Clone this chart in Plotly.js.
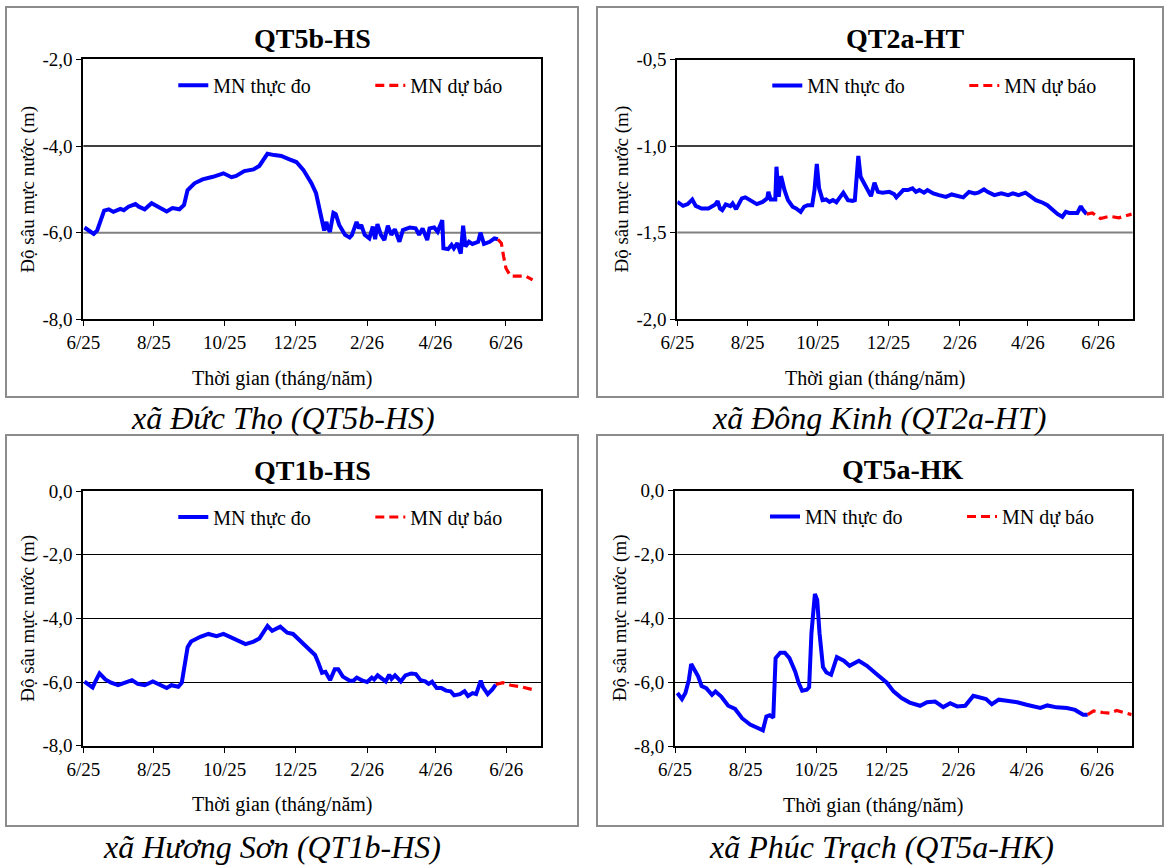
<!DOCTYPE html>
<html>
<head>
<meta charset="utf-8">
<script src="https://cdn.plot.ly/plotly-3.0.1.min.js"></script>
<style>
html,body{margin:0;padding:0;background:#ffffff;overflow:hidden;}
#chart{width:1165px;height:867px;}
</style>
</head>
<body>
<div id="chart"></div>
<script>
// ---------------- DATA ----------------
const seriesNames = ['MN thực đo', 'MN dự báo'];
const stationTitles = ['QT5b-HS', 'QT2a-HT', 'QT1b-HS', 'QT5a-HK'];
const captions = ['xã Đức Thọ (QT5b-HS)', 'xã Đông Kinh (QT2a-HT)', 'xã Hương Sơn (QT1b-HS)', 'xã Phúc Trạch (QT5a-HK)'];
const yAxisTitle = 'Độ sâu mực nước (m)';
const xAxisTitle = 'Thời gian (tháng/năm)';

// Y tick values / labels
const yTicks1 = [-8, -6, -4, -2];          const yLabels1 = ['-8,0', '-6,0', '-4,0', '-2,0'];
const yTicks2 = [-2, -1.5, -1, -0.5];      const yLabels2 = ['-2,0', '-1,5', '-1,0', '-0,5'];
const yTicks3 = [-8, -6, -4, -2, 0];       const yLabels3 = ['-8,0', '-6,0', '-4,0', '-2,0', '0,0'];
const yTicks4 = [-8, -6, -4, -2, 0];       const yLabels4 = ['-8,0', '-6,0', '-4,0', '-2,0', '0,0'];

// QT5b-HS observed
const qt5bObsDates = ['2025-06-02','2025-06-10','2025-06-13','2025-06-19','2025-06-23','2025-06-27','2025-07-03','2025-07-06','2025-07-10','2025-07-16','2025-07-19','2025-07-24','2025-07-30','2025-08-05','2025-08-12','2025-08-17','2025-08-23','2025-08-27','2025-08-30','2025-09-05','2025-09-12','2025-09-21','2025-09-30','2025-10-07','2025-10-11','2025-10-18','2025-10-26','2025-10-31','2025-11-07','2025-11-13','2025-11-19','2025-11-26','2025-12-02','2025-12-08','2025-12-15','2025-12-19','2025-12-21','2025-12-24','2025-12-26','2025-12-28','2025-12-29','2025-12-31','2026-01-03','2026-01-05','2026-01-08','2026-01-13','2026-01-17','2026-01-19','2026-01-23','2026-01-25','2026-01-27','2026-01-30','2026-02-03','2026-02-06','2026-02-08','2026-02-10','2026-02-13','2026-02-16','2026-02-19','2026-02-22','2026-02-25','2026-03-01','2026-03-04','2026-03-10','2026-03-15','2026-03-18','2026-03-21','2026-03-25','2026-03-27','2026-03-31','2026-04-03','2026-04-07','2026-04-08','2026-04-12','2026-04-15','2026-04-17','2026-04-20','2026-04-23','2026-04-25','2026-04-27','2026-04-30','2026-05-03','2026-05-08','2026-05-10','2026-05-13','2026-05-18','2026-05-22','2026-05-25'];
const qt5bObs = [-5.88,-6.03,-5.95,-5.49,-5.46,-5.52,-5.45,-5.48,-5.40,-5.34,-5.40,-5.46,-5.32,-5.41,-5.51,-5.43,-5.46,-5.36,-5.02,-4.86,-4.77,-4.71,-4.63,-4.72,-4.69,-4.58,-4.54,-4.46,-4.18,-4.21,-4.23,-4.31,-4.37,-4.55,-4.86,-5.09,-5.32,-5.71,-5.95,-5.75,-5.88,-5.98,-5.54,-5.57,-5.82,-6.05,-6.11,-6.05,-5.75,-5.90,-5.82,-6.05,-6.13,-5.86,-6.15,-5.80,-6.05,-6.17,-5.84,-6.05,-5.92,-6.21,-5.94,-5.88,-5.90,-6.05,-5.90,-6.17,-5.90,-5.88,-5.98,-5.71,-6.36,-6.38,-6.28,-6.36,-6.24,-6.48,-5.84,-6.32,-6.21,-6.26,-6.21,-6.00,-6.26,-6.21,-6.13,-6.15];
const qt5bFcDates = ['2026-05-25','2026-05-28','2026-05-30','2026-06-01','2026-06-05','2026-06-12','2026-06-18','2026-06-24'];
const qt5bFc = [-6.15,-6.24,-6.55,-6.82,-7.00,-7.00,-7.00,-7.09];

// QT2a-HT observed
const qt2aObsDates = ['2025-06-01','2025-06-06','2025-06-10','2025-06-14','2025-06-17','2025-06-22','2025-06-28','2025-07-04','2025-07-06','2025-07-08','2025-07-10','2025-07-13','2025-07-17','2025-07-19','2025-07-22','2025-07-24','2025-07-27','2025-07-30','2025-08-03','2025-08-09','2025-08-14','2025-08-18','2025-08-19','2025-08-21','2025-08-25','2025-08-26','2025-08-28','2025-08-30','2025-09-02','2025-09-05','2025-09-09','2025-09-12','2025-09-16','2025-09-19','2025-09-22','2025-09-26','2025-09-28','2025-09-30','2025-10-02','2025-10-05','2025-10-08','2025-10-11','2025-10-14','2025-10-17','2025-10-20','2025-10-23','2025-10-27','2025-10-31','2025-11-02','2025-11-05','2025-11-07','2025-11-10','2025-11-13','2025-11-16','2025-11-19','2025-11-22','2025-11-26','2025-12-02','2025-12-06','2025-12-08','2025-12-14','2025-12-18','2025-12-22','2025-12-25','2025-12-28','2026-01-01','2026-01-04','2026-01-09','2026-01-14','2026-01-20','2026-01-25','2026-02-01','2026-02-04','2026-02-09','2026-02-14','2026-02-17','2026-02-22','2026-02-25','2026-03-03','2026-03-09','2026-03-15','2026-03-19','2026-03-24','2026-03-30','2026-04-02','2026-04-08','2026-04-14','2026-04-18','2026-04-23','2026-04-27','2026-05-01','2026-05-04','2026-05-07','2026-05-14','2026-05-17','2026-05-19','2026-05-22'];
const qt2aObs = [-1.323,-1.346,-1.336,-1.309,-1.346,-1.361,-1.361,-1.338,-1.319,-1.361,-1.371,-1.338,-1.348,-1.332,-1.365,-1.338,-1.303,-1.297,-1.313,-1.336,-1.323,-1.303,-1.265,-1.309,-1.309,-1.120,-1.294,-1.174,-1.255,-1.313,-1.351,-1.361,-1.381,-1.351,-1.342,-1.342,-1.255,-1.104,-1.245,-1.313,-1.309,-1.323,-1.313,-1.325,-1.297,-1.270,-1.313,-1.317,-1.313,-1.058,-1.178,-1.216,-1.255,-1.290,-1.212,-1.265,-1.270,-1.265,-1.278,-1.297,-1.255,-1.255,-1.245,-1.265,-1.255,-1.270,-1.255,-1.274,-1.284,-1.294,-1.280,-1.290,-1.297,-1.265,-1.274,-1.270,-1.251,-1.265,-1.284,-1.274,-1.284,-1.274,-1.284,-1.270,-1.284,-1.313,-1.328,-1.342,-1.371,-1.394,-1.409,-1.381,-1.387,-1.387,-1.348,-1.371,-1.394];
const qt2aFcDates = ['2026-05-22','2026-05-27','2026-06-03','2026-06-11','2026-06-19','2026-06-30'];
const qt2aFc = [-1.394,-1.387,-1.419,-1.406,-1.415,-1.394];

// QT1b-HS observed
const qt1bObsDates = ['2025-06-02','2025-06-09','2025-06-12','2025-06-15','2025-06-20','2025-06-25','2025-07-01','2025-07-07','2025-07-13','2025-07-18','2025-07-24','2025-07-31','2025-08-06','2025-08-12','2025-08-16','2025-08-22','2025-08-25','2025-08-28','2025-08-30','2025-09-02','2025-09-10','2025-09-17','2025-09-24','2025-09-30','2025-10-07','2025-10-13','2025-10-19','2025-10-26','2025-10-31','2025-11-07','2025-11-11','2025-11-18','2025-11-24','2025-11-29','2025-12-05','2025-12-12','2025-12-18','2025-12-21','2025-12-24','2025-12-27','2025-12-31','2026-01-04','2026-01-07','2026-01-11','2026-01-17','2026-01-20','2026-01-23','2026-01-27','2026-02-01','2026-02-05','2026-02-07','2026-02-10','2026-02-13','2026-02-17','2026-02-20','2026-02-22','2026-02-25','2026-02-28','2026-03-02','2026-03-06','2026-03-11','2026-03-15','2026-03-19','2026-03-23','2026-03-26','2026-03-29','2026-04-02','2026-04-06','2026-04-10','2026-04-14','2026-04-17','2026-04-22','2026-04-26','2026-04-29','2026-05-03','2026-05-06','2026-05-10','2026-05-12','2026-05-16','2026-05-20','2026-05-23'];
const qt1bObs = [-5.99,-6.17,-5.94,-5.73,-5.92,-6.02,-6.10,-6.02,-5.94,-6.06,-6.10,-5.98,-6.08,-6.19,-6.10,-6.15,-6.02,-5.31,-4.91,-4.73,-4.58,-4.49,-4.56,-4.49,-4.60,-4.70,-4.81,-4.73,-4.63,-4.24,-4.39,-4.26,-4.45,-4.49,-4.70,-4.94,-5.15,-5.41,-5.71,-5.68,-5.94,-5.60,-5.60,-5.83,-5.96,-5.96,-5.86,-5.94,-6.00,-5.86,-5.92,-5.79,-5.88,-5.98,-5.77,-5.90,-5.79,-5.90,-5.98,-5.79,-5.73,-5.75,-5.94,-5.98,-6.06,-5.99,-6.19,-6.19,-6.27,-6.29,-6.42,-6.38,-6.29,-6.44,-6.35,-6.38,-5.96,-6.17,-6.38,-6.23,-6.08];
const qt1bFcDates = ['2026-05-23','2026-05-29','2026-06-05','2026-06-14','2026-06-25'];
const qt1bFc = [-6.08,-6.02,-6.10,-6.15,-6.25];

// QT5a-HK observed
const qt5aObsDates = ['2025-06-03','2025-06-07','2025-06-10','2025-06-13','2025-06-15','2025-06-19','2025-06-21','2025-06-24','2025-06-28','2025-07-03','2025-07-06','2025-07-11','2025-07-17','2025-07-23','2025-07-29','2025-08-05','2025-08-11','2025-08-16','2025-08-19','2025-08-22','2025-08-25','2025-08-27','2025-08-31','2025-09-04','2025-09-08','2025-09-13','2025-09-16','2025-09-19','2025-09-23','2025-09-25','2025-09-27','2025-09-30','2025-10-02','2025-10-04','2025-10-07','2025-10-10','2025-10-14','2025-10-19','2025-10-25','2025-10-30','2025-11-07','2025-11-14','2025-11-22','2025-12-01','2025-12-07','2025-12-14','2025-12-21','2025-12-30','2026-01-05','2026-01-12','2026-01-19','2026-01-25','2026-01-31','2026-02-07','2026-02-14','2026-02-20','2026-02-25','2026-03-02','2026-03-08','2026-03-15','2026-03-24','2026-04-01','2026-04-13','2026-04-19','2026-04-27','2026-05-06','2026-05-13','2026-05-20','2026-05-24'];
const qt5aObs = [-6.34,-6.53,-6.34,-5.93,-5.43,-5.72,-5.82,-6.12,-6.19,-6.40,-6.29,-6.45,-6.74,-6.84,-7.13,-7.33,-7.44,-7.51,-7.08,-7.04,-7.11,-5.25,-5.08,-5.08,-5.25,-5.67,-6.03,-6.27,-6.24,-6.16,-4.47,-3.24,-3.43,-4.47,-5.53,-5.70,-5.77,-5.22,-5.33,-5.49,-5.33,-5.49,-5.74,-6.01,-6.29,-6.50,-6.64,-6.74,-6.63,-6.61,-6.78,-6.66,-6.76,-6.74,-6.43,-6.48,-6.53,-6.69,-6.55,-6.58,-6.63,-6.71,-6.81,-6.73,-6.79,-6.81,-6.87,-7.02,-7.02];
const qt5aFcDates = ['2026-05-24','2026-05-29','2026-06-06','2026-06-12','2026-06-18','2026-07-01'];
const qt5aFc = [-7.02,-6.90,-6.95,-6.97,-6.89,-7.02];

// ---------------- LAYOUT HELPERS ----------------
const W = 1165, H = 867;
const FONT = 'Liberation Serif, Times New Roman, serif';
const fx = px => px / W;
const fy = py => 1 - py / H;

// plot areas in pixels [left, right, top, bottom]
const plots = [
  [83.3, 540.7, 59.3, 319.4],
  [677.3, 1132.7, 59.5, 319.0],
  [83.3, 541.0, 491.0, 745.7],
  [675.0, 1131.7, 490.5, 746.0]
];
// outer frames
const frames = [
  [6, 578, 7, 397],
  [597, 1163, 7, 397],
  [6, 578, 435, 826],
  [597, 1163, 435, 826]
];
const captionPos = [[283, 418], [879, 418], [272, 847], [881, 847]];
// inner gridline colours for the top panels (drawn as shapes so one can be grey)
const gridColors = [['#000000', '#808080'], ['#000000', '#808080'], null, null];

const obsX = [qt5bObsDates, qt2aObsDates, qt1bObsDates, qt5aObsDates];
const obsY = [qt5bObs, qt2aObs, qt1bObs, qt5aObs];
const fcX = [qt5bFcDates, qt2aFcDates, qt1bFcDates, qt5aFcDates];
const fcY = [qt5bFc, qt2aFc, qt1bFc, qt5aFc];
const yTicks = [yTicks1, yTicks2, yTicks3, yTicks4];
const yLabels = [yLabels1, yLabels2, yLabels3, yLabels4];

const traces = [];
const layout = {
  width: W, height: H, autosize: false,
  margin: {l: 0, r: 0, t: 0, b: 0, pad: 0, autoexpand: false},
  paper_bgcolor: '#ffffff', plot_bgcolor: '#ffffff',
  font: {family: FONT, size: 19, color: '#000000'},
  showlegend: true,
  shapes: [], annotations: []
};

for (let i = 0; i < 4; i++) {
  const n = i + 1;
  const xa = n === 1 ? 'x' : 'x' + n;
  const ya = n === 1 ? 'y' : 'y' + n;
  const lg = n === 1 ? 'legend' : 'legend' + n;
  const [l, r, t, b] = plots[i];

  traces.push({
    type: 'scatter', mode: 'lines', x: obsX[i], y: obsY[i], name: seriesNames[0],
    xaxis: xa, yaxis: ya, legend: lg,
    line: {color: '#0000FF', width: 4}, hoverinfo: 'skip'
  });
  traces.push({
    type: 'scatter', mode: 'lines', x: fcX[i], y: fcY[i], name: seriesNames[1],
    xaxis: xa, yaxis: ya, legend: lg,
    line: {color: '#FF0000', width: 3.2, dash: '9px,5px'}, hoverinfo: 'skip'
  });

  const yt = yTicks[i];
  layout[n === 1 ? 'xaxis' : 'xaxis' + n] = {
    type: 'date', domain: [fx(l), fx(r)], anchor: ya,
    range: ['2025-06-01', '2026-07-01'],
    tick0: '2025-06-01', dtick: 'M2', tickformat: '%-m/%y',
    ticks: 'outside', ticklen: 5, tickwidth: 1, tickcolor: '#000',
    showline: true, mirror: true, linecolor: '#000', linewidth: 2,
    showgrid: false, zeroline: false, fixedrange: true,
    tickfont: {family: FONT, size: 19, color: '#000'}
  };
  layout[n === 1 ? 'yaxis' : 'yaxis' + n] = {
    domain: [fy(b), fy(t)], anchor: xa,
    range: [yt[0], yt[yt.length - 1]],
    tickmode: 'array', tickvals: yt, ticktext: yLabels[i],
    ticks: 'outside', ticklen: 5, tickwidth: 1, tickcolor: '#000',
    showline: true, mirror: true, linecolor: '#000', linewidth: 2,
    showgrid: gridColors[i] === null, gridcolor: '#000', gridwidth: 1,
    zeroline: false, fixedrange: true,
    tickfont: {family: FONT, size: 19, color: '#000'}
  };
  if (gridColors[i] !== null) {
    // inner gridlines (between the bottom and top ticks)
    const inner = yt.slice(1, yt.length - 1).reverse(); // upper first
    inner.forEach((v, k) => {
      layout.shapes.push({
        type: 'line', xref: xa + ' domain', yref: ya, x0: 0, x1: 1, y0: v, y1: v,
        line: {color: gridColors[i][k], width: k === 0 ? 1.3 : 2}, layer: 'below'
      });
    });
  }

  layout[lg] = {
    orientation: 'h', xref: 'paper', yref: 'paper',
    x: fx(l + 90), xanchor: 'left',
    y: fy(t + 26), yanchor: 'middle',
    bgcolor: 'rgba(0,0,0,0)', borderwidth: 0,
    entrywidth: 152, entrywidthmode: 'pixels',
    font: {family: FONT, size: 20, color: '#000'},
    traceorder: 'normal'
  };

  // outer frame
  const [fl, fr, ft, fb] = frames[i];
  layout.shapes.push({
    type: 'rect', xref: 'paper', yref: 'paper',
    x0: fx(fl), x1: fx(fr), y0: fy(fb), y1: fy(ft),
    line: {color: '#8c8c8c', width: 2}, fillcolor: 'rgba(0,0,0,0)', layer: 'below'
  });

  // chart title
  layout.annotations.push({
    xref: 'paper', yref: 'paper', x: fx((l + r) / 2), y: fy(t - 21),
    xanchor: 'center', yanchor: 'middle', showarrow: false,
    text: '<b>' + stationTitles[i] + '</b>',
    font: {family: FONT, size: 28, color: '#000'}
  });
  // y axis title
  layout.annotations.push({
    xref: 'paper', yref: 'paper', x: fx(l - 55), y: fy((t + b) / 2),
    xanchor: 'center', yanchor: 'middle', showarrow: false, textangle: -90,
    text: yAxisTitle, font: {family: FONT, size: 19, color: '#000'}
  });
  // x axis title
  layout.annotations.push({
    xref: 'paper', yref: 'paper', x: fx((l + r) / 2 - 30), y: fy(b + 59),
    xanchor: 'center', yanchor: 'middle', showarrow: false,
    text: xAxisTitle, font: {family: FONT, size: 20, color: '#000'}
  });
  // caption
  layout.annotations.push({
    xref: 'paper', yref: 'paper', x: fx(captionPos[i][0]), y: fy(captionPos[i][1]),
    xanchor: 'center', yanchor: 'middle', showarrow: false,
    text: '<i>' + captions[i] + '</i>',
    font: {family: FONT, size: 32, color: '#000'}
  });
}

Plotly.newPlot('chart', traces, layout, {staticPlot: true, displayModeBar: false, responsive: false});
</script>
</body>
</html>
